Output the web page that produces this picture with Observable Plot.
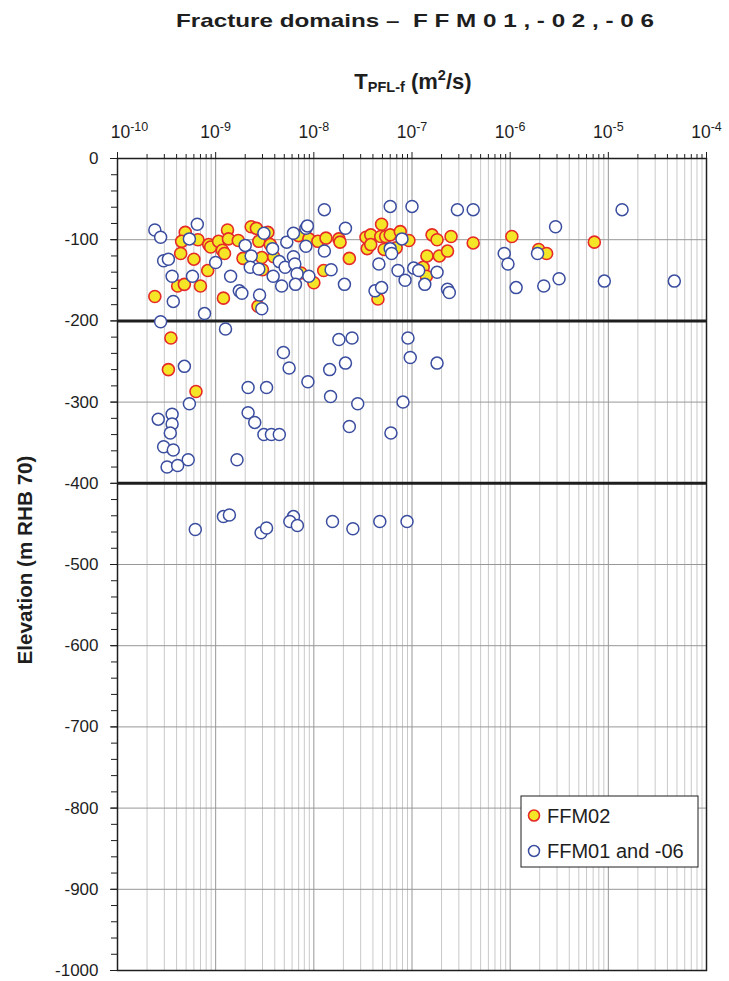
<!DOCTYPE html>
<html><head><meta charset="utf-8">
<script src="https://cdn.jsdelivr.net/npm/d3@7"></script>
<script src="https://cdn.jsdelivr.net/npm/@observablehq/plot@0.6"></script>
<style>body{margin:0;background:#fff}</style>
</head><body><div id="chart"></div>
<script>
// FFM02 (yellow)
const ffm02T = [2.4e-10,3.5e-10,3.3e-10,6.3e-10,4.9e-10,4.5e-10,4.4e-10,6.0e-10,6.6e-10,4.1e-10,
  4.8e-10,7.0e-10,8.3e-10,8.5e-10,8.9e-10,1.07e-9,1.17e-9,1.23e-9,1.32e-9,1.35e-9,
  1.2e-9,1.7e-9,1.9e-9,2.3e-9,2.6e-9,2.75e-9,2.95e-9,3.0e-9,2.7e-9,3.4e-9,
  3.6e-9,3.9e-9,7.0e-9,8.9e-9,1.1e-8,1.33e-8,1.26e-8,1.0e-8,7.4e-9,1.8e-8,
  1.85e-8,2.3e-8,3.4e-8,3.5e-8,3.8e-8,3.8e-8,4.9e-8,4.8e-8,5.4e-8,5.2e-8,
  6.0e-8,6.9e-8,7.6e-8,9.3e-8,4.5e-8,1.3e-7,1.4e-7,1.42e-7,1.6e-7,1.8e-7,
  1.9e-7,2.3e-7,2.5e-7,4.2e-7,1.04e-6,1.95e-6,2.35e-6,7.2e-6];
const ffm02Elev = [-170,-221,-260,-287,-91,-102,-117,-124,-100,-157,
  -155,-157,-138,-106,-109,-102,-113,-117,-88,-99,
  -172,-101,-123,-84,-86,-102,-122,-137,-182,-91,
  -106,-121,-95,-99,-102,-98,-138,-153,-141,-99,
  -103,-123,-97,-111,-94,-106,-81,-96,-96,-112,
  -94,-110,-90,-101,-173,-134,-145,-120,-94,-100,
  -120,-114,-96,-104,-96,-112,-117,-103];

// FFM01 and -06 (blue, open)
const ffm01T = [2.4e-10,2.75e-10,2.95e-10,3.3e-10,3.6e-10,3.7e-10,2.75e-10,5.8e-10,5.4e-10,6.5e-10,
  7.7e-10,1.0e-9,1.42e-9,1.74e-9,1.85e-9,1.26e-9,2.0e-9,2.3e-9,2.25e-9,2.75e-9,
  3.1e-9,2.8e-9,2.95e-9,3.8e-9,3.85e-9,4.45e-9,4.7e-9,5.1e-9,5.3e-9,6.2e-9,
  6.2e-9,6.4e-9,6.75e-9,6.5e-9,8.3e-9,8.6e-9,8.3e-9,8.9e-9,1.28e-8,1.28e-8,
  1.5e-8,2.1e-8,2.05e-8,4.6e-8,4.2e-8,4.9e-8,6.0e-8,6.0e-8,6.2e-8,7.9e-8,
  7.2e-8,8.5e-8,1.0e-7,1.04e-7,1.17e-7,1.35e-7,1.8e-7,2.3e-7,2.4e-7,2.9e-7,
  4.2e-7,8.7e-7,9.5e-7,1.15e-6,2.9e-6,1.9e-6,2.2e-6,3.15e-6,9.1e-6,1.38e-5,
  4.7e-5,
  4.8e-10,5.4e-10,3.6e-10,2.6e-10,3.6e-10,3.45e-10,2.95e-10,3.7e-10,5.25e-10,3.2e-10,
  4.1e-10,1.65e-9,2.14e-9,3.3e-9,2.14e-9,2.5e-9,3.1e-9,3.7e-9,4.45e-9,4.9e-9,
  5.6e-9,8.7e-9,1.45e-8,1.48e-8,1.8e-8,2.45e-8,2.1e-8,2.8e-8,2.3e-8,6.1e-8,
  8.1e-8,9.1e-8,9.6e-8,1.8e-7,
  6.2e-10,1.2e-9,1.38e-9,2.9e-9,3.3e-9,6.2e-9,5.7e-9,6.8e-9,1.55e-8,2.5e-8,
  4.7e-8,8.9e-8];
const ffm01Elev = [-88,-97,-126,-124,-145,-176,-201,-145,-99,-81,
  -191,-128,-145,-163,-166,-210,-107,-120,-134,-136,
  -92,-168,-185,-111,-145,-127,-157,-134,-103,-92,
  -121,-130,-142,-155,-86,-83,-108,-145,-63,-114,
  -137,-86,-155,-130,-163,-159,-59,-111,-117,-99,
  -138,-150,-59,-135,-138,-155,-140,-161,-165,-63,
  -63,-117,-130,-159,-84,-117,-157,-148,-151,-63,
  -151,
  -256,-302,-315,-321,-327,-338,-355,-359,-371,-380,
  -378,-371,-282,-282,-313,-325,-340,-340,-340,-239,
  -258,-275,-260,-293,-223,-221,-252,-302,-330,-338,
  -300,-221,-245,-252,
  -457,-441,-439,-461,-455,-441,-447,-452,-447,-456,
  -447,-447];

const seriesNames = ["FFM02", "FFM01 and -06"];
const decadeTicks = [1e-10,1e-9,1e-8,1e-7,1e-6,1e-5,1e-4];
const decadeExps = [-10,-9,-8,-7,-6,-5,-4];
const elevTicks = [0,-100,-200,-300,-400,-500,-600,-700,-800,-900,-1000];
const heavyRules = [-200,-400];

const minorTicks = [];
decadeExps.slice(0, -1).forEach(e => { for (let m = 2; m <= 9; m++) minorTicks.push(m * Math.pow(10, e)); });
const minorY = d3.range(-1000, 1, 20);

const ffm02 = ffm02T.map((t, i) => ({t, elev: ffm02Elev[i]}));
const ffm01 = ffm01T.map((t, i) => ({t, elev: ffm01Elev[i]}));

const YEL = "#f4e527", RED = "#e62a27", BLUE = "#3a4d9f", INK = "#1e1e1e";
const FONT = "'Liberation Sans', Arial, sans-serif";

const chart = Plot.plot({
  width: 729, height: 981,
  marginTop: 158, marginLeft: 117, marginRight: 23, marginBottom: 11,
  x: {type: "log", domain: [1e-10, 1e-4]},
  y: {domain: [-1000, 0]},
  style: {fontFamily: FONT, fontSize: "17px", background: "#fff", color: INK},
  marks: [
    Plot.gridX(minorTicks, {stroke: "#c9c9c9", strokeOpacity: 1}),
    Plot.gridX(decadeTicks, {stroke: "#979797", strokeOpacity: 1}),
    Plot.gridY(elevTicks, {stroke: "#979797", strokeOpacity: 1}),
    Plot.ruleY(heavyRules, {stroke: INK, strokeWidth: 3}),
    Plot.dot(ffm02, {x: "t", y: "elev", r: 6, fill: YEL, stroke: RED, strokeWidth: 1.6}),
    Plot.dot(ffm01, {x: "t", y: "elev", r: 6, fill: "#fff", stroke: BLUE, strokeWidth: 1.5}),
    Plot.frame({stroke: INK, strokeWidth: 1.5}),
    Plot.axisX(minorTicks, {anchor: "top", tickSize: 5, tickFormat: () => "", label: null}),
    Plot.axisX(decadeTicks, {anchor: "top", tickSize: 7, tickPadding: 14, label: null, fontSize: 17.5,
      tickFormat: d => "10^" + Math.round(Math.log10(d))}),
    Plot.axisY(minorY, {anchor: "left", tickSize: 6, tickFormat: () => "", label: null}),
    Plot.axisY(elevTicks, {anchor: "left", tickSize: 7, tickPadding: 12, label: null, fontSize: 17,
      tickFormat: d => String(d)})
  ]
});
document.getElementById("chart").appendChild(chart);

const svg = d3.select(chart);
// superscript decade labels
svg.selectAll("text").each(function() {
  const s = this.textContent;
  const m = /^10\^(-?\d+)$/.exec(s);
  if (!m) return;
  const t = d3.select(this);
  t.text(null);
  if (m[1] === "-10") t.attr("dx", 12);
  t.append("tspan").text("10");
  t.append("tspan").attr("dy", "-0.5em").attr("font-size", "12.5px").text(m[1]);
});

// Title
svg.append("text").attr("x", 415).attr("y", 27).attr("text-anchor", "middle")
  .attr("font-family", FONT).attr("font-weight", "bold").attr("font-size", 18.5).attr("fill", INK)
  .attr("textLength", 478).attr("lengthAdjust", "spacingAndGlyphs")
  .text("Fracture domains \u2013  F F M 0 1 , - 0 2 , - 0 6");
// x-axis title
const xt = svg.append("text").attr("x", 413).attr("y", 89).attr("text-anchor", "middle")
  .attr("font-family", FONT).attr("font-weight", "bold").attr("font-size", 22).attr("fill", INK);
xt.append("tspan").text("T");
xt.append("tspan").attr("font-size", 14.5).attr("dy", 3).text("PFL-f");
xt.append("tspan").attr("dy", -3).text(" (m");
xt.append("tspan").attr("font-size", 14.5).attr("dy", -9).text("2");
xt.append("tspan").attr("dy", 9).text("/s)");
// y-axis title
svg.append("text").attr("transform", "translate(32,560) rotate(-90)").attr("text-anchor", "middle")
  .attr("font-family", FONT).attr("font-weight", "bold").attr("font-size", 20).attr("fill", INK)
  .attr("textLength", 209).attr("lengthAdjust", "spacingAndGlyphs")
  .text("Elevation (m RHB 70)");

// Legend
const lg = svg.append("g").attr("text-anchor", "start");
lg.append("rect").attr("x", 521).attr("y", 796).attr("width", 177).attr("height", 71)
  .attr("fill", "#fff").attr("stroke", INK).attr("stroke-width", 1);
lg.append("circle").attr("cx", 534).attr("cy", 815.5).attr("r", 5.5)
  .attr("fill", YEL).attr("stroke", RED).attr("stroke-width", 1.6);
lg.append("circle").attr("cx", 534).attr("cy", 851).attr("r", 5.5)
  .attr("fill", "#fff").attr("stroke", BLUE).attr("stroke-width", 1.5);
lg.append("text").attr("x", 547).attr("y", 823).attr("text-anchor", "start").attr("font-family", FONT)
  .attr("font-size", 20).attr("fill", INK).text(seriesNames[0]);
lg.append("text").attr("x", 547).attr("y", 858).attr("text-anchor", "start").attr("font-family", FONT)
  .attr("font-size", 20).attr("fill", INK).text(seriesNames[1]);
</script>
</body></html>
